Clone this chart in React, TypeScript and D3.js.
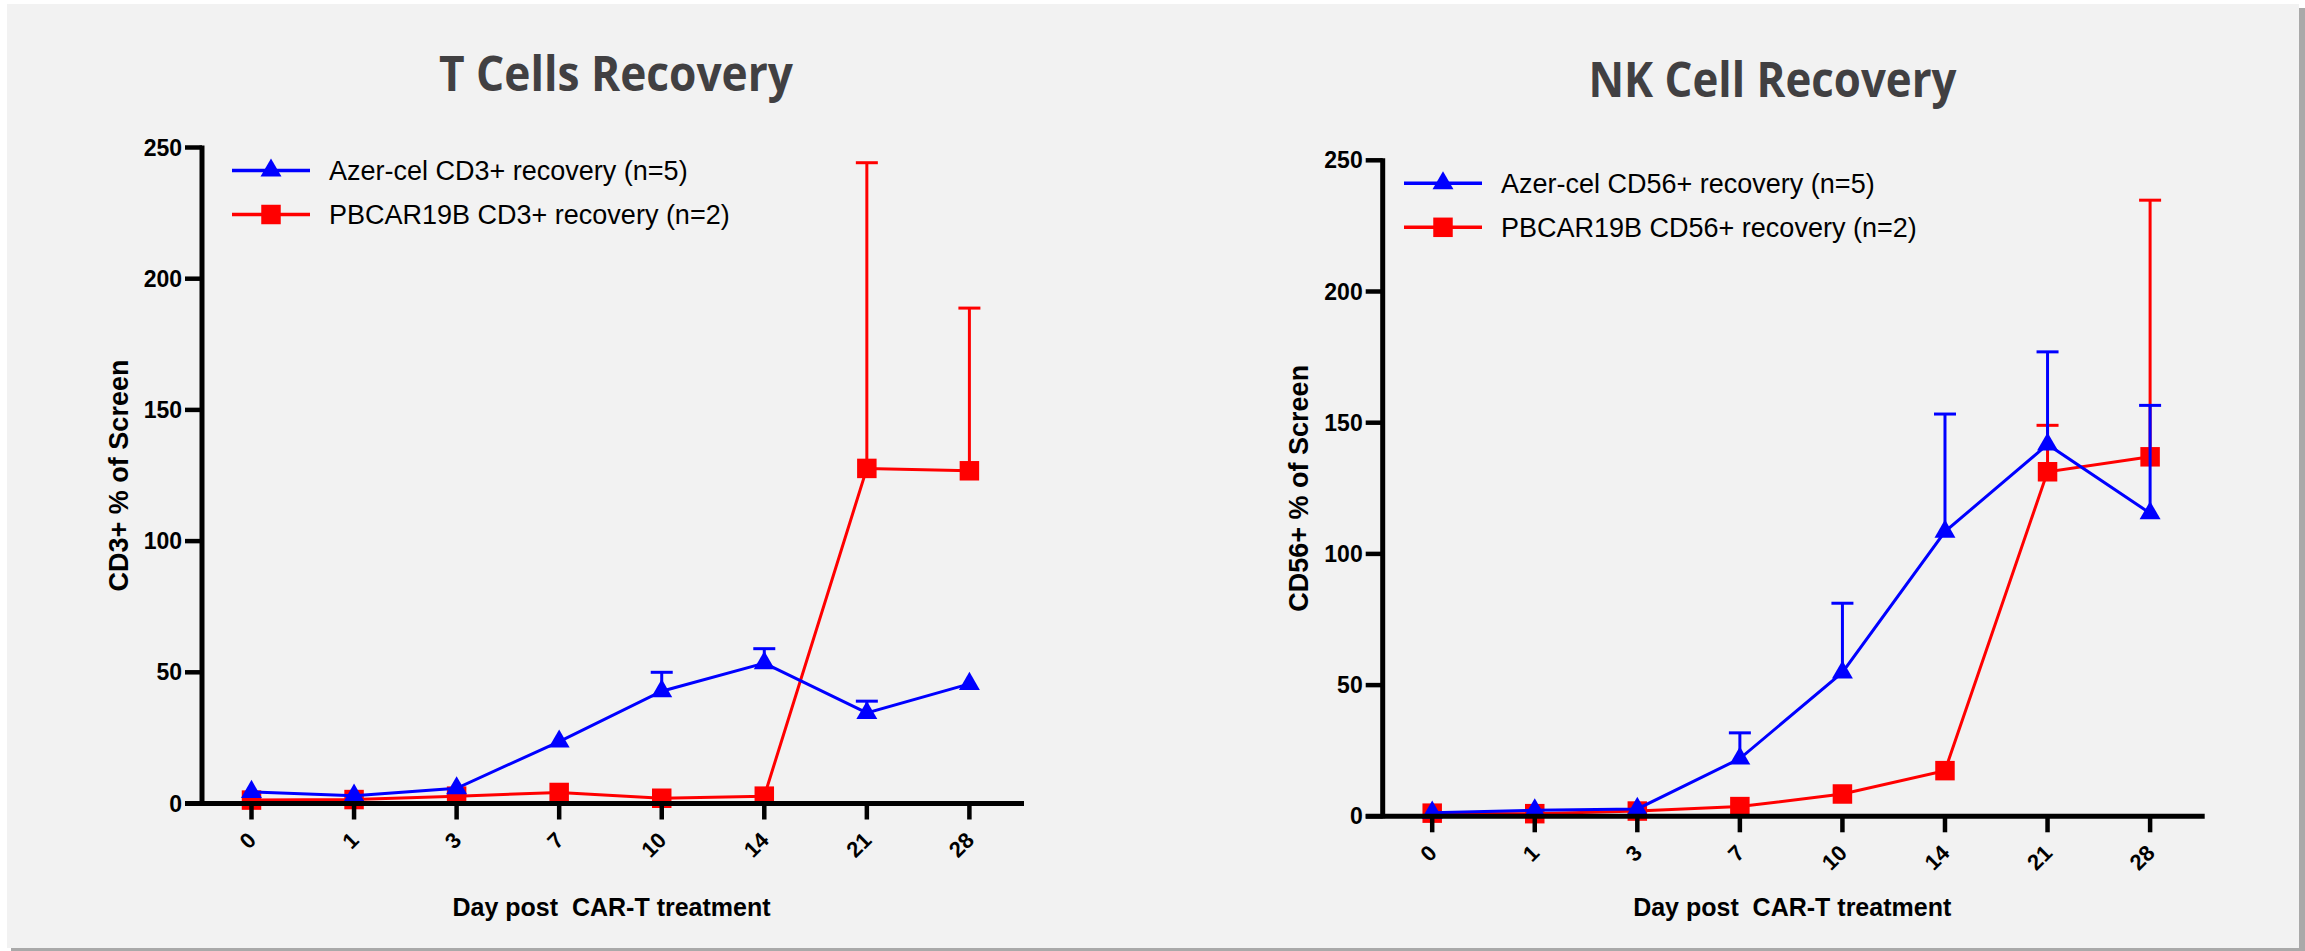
import * as d3 from 'd3';
import React from 'react';

// shared categories and ticks
const days = ['0', '1', '3', '7', '10', '14', '21', '28'];
const yTicks = [0, 50, 100, 150, 200, 250];

// T cells (CD3+), mean and upper error
const tAzer = [4.4, 3.0, 5.8, 23.6, 42.8, 53.5, 34.5, 45.6];
const tAzerErr = [0, 0, 0, 0, 7.2, 5.5, 4.5, 0];
const tPbcar = [1.3, 1.5, 2.8, 4.2, 2.0, 2.8, 127.7, 126.8];
const tPbcarErr = [0, 0, 0, 0, 0, 0, 116.5, 62];

// NK cells (CD56+)
const nkAzer = [1.4, 2.3, 2.8, 22, 54.8, 108.5, 141.7, 115.5];
const nkAzerErr = [0, 0, 0, 9.8, 26.4, 44.8, 35.3, 41.1];
const nkPbcar = [1.2, 1.0, 2.0, 3.7, 8.5, 17.4, 131.3, 137];
const nkPbcarErr = [0, 0, 0, 0, 0, 0, 17.7, 97.8];

const ARIAL = "'Liberation Sans', Arial, sans-serif";
const TITLE_FONT = "'Open Sans', sans-serif";
const BLUE = '#0000ff';
const RED = '#ff0000';

type Series = { mean: number[]; err: number[]; color: string; marker: 'tri' | 'sq'; label: string };

function Panel(props: {
  x0: number;
  y0: number;
  title: string;
  titleX: number;
  titleY: number;
  titleLen: number;
  yLabel: string;
  yLabelX: number;
  xLabelY: number;
  legendX: number;
  legendY: number;
  series: Series[];
}) {
  const { x0, y0, series } = props;
  const x = d3.scalePoint<string>().domain(days).range([x0 + 49.5, x0 + 767.4]);
  const y = d3.scaleLinear().domain([0, 250]).range([y0, y0 - 656]);
  const line = d3
    .line<number>()
    .x((_, i) => x(days[i]) as number)
    .y(d => y(d));
  const tri = d3.symbol(d3.symbolTriangle, 190)() as string;
  const sq = d3.symbol(d3.symbolSquare, 380)() as string;
  const yMid = (y(0) + y(250)) / 2;
  const xMid = x0 + 409.5;

  return (
    <g>
      <text
        x={props.titleX}
        y={props.titleY}
        textAnchor="middle"
        fontFamily={TITLE_FONT}
        fontWeight="bold"
        fontSize={48}
        fill="#414042"
        textLength={props.titleLen}
        lengthAdjust="spacingAndGlyphs"
      >
        {props.title}
      </text>

      {/* series: red first, blue on top */}
      {series.map((s, si) => (
        <g key={si}>
          {s.mean.map((m, i) =>
            s.err[i] > 0 ? (
              <g key={i} stroke={s.color} strokeWidth={3}>
                <line x1={x(days[i])} x2={x(days[i])} y1={y(m)} y2={y(m + s.err[i])} />
                <line
                  x1={(x(days[i]) as number) - 11}
                  x2={(x(days[i]) as number) + 11}
                  y1={y(m + s.err[i])}
                  y2={y(m + s.err[i])}
                />
              </g>
            ) : null
          )}
          <path d={line(s.mean) as string} fill="none" stroke={s.color} strokeWidth={3} />
          {s.mean.map((m, i) => (
            <path
              key={i}
              d={s.marker === 'tri' ? tri : sq}
              transform={`translate(${x(days[i])},${y(m)})`}
              fill={s.color}
            />
          ))}
        </g>
      ))}

      {/* axes */}
      <g stroke="#000" strokeLinecap="butt">
        <line x1={x0} x2={x0} y1={y(250) - 2} y2={y0 + 2} strokeWidth={5} />
        <line x1={x0 - 17} x2={x0 + 822} y1={y0} y2={y0} strokeWidth={5} />
        {yTicks.map(t => (
          <line key={t} x1={x0 - 17} x2={x0} y1={y(t)} y2={y(t)} strokeWidth={4.5} />
        ))}
        {days.map(d => (
          <line key={d} x1={x(d)} x2={x(d)} y1={y0} y2={y0 + 16} strokeWidth={4.5} />
        ))}
      </g>
      {yTicks.map(t => (
        <text
          key={t}
          x={x0 - 20}
          y={y(t) + 8}
          textAnchor="end"
          fontFamily={ARIAL}
          fontWeight="bold"
          fontSize={23}
        >
          {t}
        </text>
      ))}
      {days.map(d => (
        <text
          key={d}
          transform={`translate(${(x(d) as number) + 6},${y0 + 38}) rotate(-45)`}
          textAnchor="end"
          fontFamily={ARIAL}
          fontWeight="bold"
          fontSize={22}
        >
          {d}
        </text>
      ))}
      <text
        transform={`translate(${props.yLabelX},${yMid}) rotate(-90)`}
        textAnchor="middle"
        fontFamily={ARIAL}
        fontWeight="bold"
        fontSize={27}
      >
        {props.yLabel}
      </text>
      <text
        x={xMid}
        y={props.xLabelY}
        textAnchor="middle"
        fontFamily={ARIAL}
        fontWeight="bold"
        fontSize={25}
        style={{ whiteSpace: 'pre' }}
      >
        {'Day post  CAR-T treatment'}
      </text>

      {/* legend, blue row first */}
      {[...series].reverse().map((s, i) => {
        const ly = props.legendY + i * 44;
        const lx = props.legendX;
        return (
          <g key={s.label}>
            <line x1={lx} x2={lx + 78} y1={ly} y2={ly} stroke={s.color} strokeWidth={3.5} />
            <path
              d={s.marker === 'tri' ? tri : sq}
              transform={`translate(${lx + 39},${ly})`}
              fill={s.color}
            />
            <text x={lx + 97} y={ly + 9.5} fontFamily={ARIAL} fontSize={27} fill="#000">
              {s.label}
            </text>
          </g>
        );
      })}
    </g>
  );
}

export default function App() {
  return (
    <svg
      width={2305}
      height={951}
      style={{ position: 'absolute', left: 0, top: 0, display: 'block' }}
    >
      <rect x={0} y={0} width={2305} height={951} fill="#ffffff" />
      <rect x={11} y={8} width={2294} height={943} fill="#a9a9a9" />
      <rect x={7} y={4} width={2292} height={944} fill="#f2f2f2" />

      <Panel
        x0={202}
        y0={803.5}
        title="T Cells Recovery"
        titleX={616}
        titleY={91}
        titleLen={354}
        yLabel="CD3+ % of Screen"
        yLabelX={128}
        xLabelY={916}
        legendX={232}
        legendY={170.5}
        series={[
          { mean: tPbcar, err: tPbcarErr, color: RED, marker: 'sq', label: 'PBCAR19B CD3+ recovery (n=2)' },
          { mean: tAzer, err: tAzerErr, color: BLUE, marker: 'tri', label: 'Azer-cel CD3+ recovery (n=5)' },
        ]}
      />
      <Panel
        x0={1382.7}
        y0={816.3}
        title="NK Cell Recovery"
        titleX={1772.5}
        titleY={97}
        titleLen={368}
        yLabel="CD56+ % of Screen"
        yLabelX={1307.5}
        xLabelY={916}
        legendX={1404}
        legendY={183.3}
        series={[
          { mean: nkPbcar, err: nkPbcarErr, color: RED, marker: 'sq', label: 'PBCAR19B CD56+ recovery (n=2)' },
          { mean: nkAzer, err: nkAzerErr, color: BLUE, marker: 'tri', label: 'Azer-cel CD56+ recovery (n=5)' },
        ]}
      />
    </svg>
  );
}
